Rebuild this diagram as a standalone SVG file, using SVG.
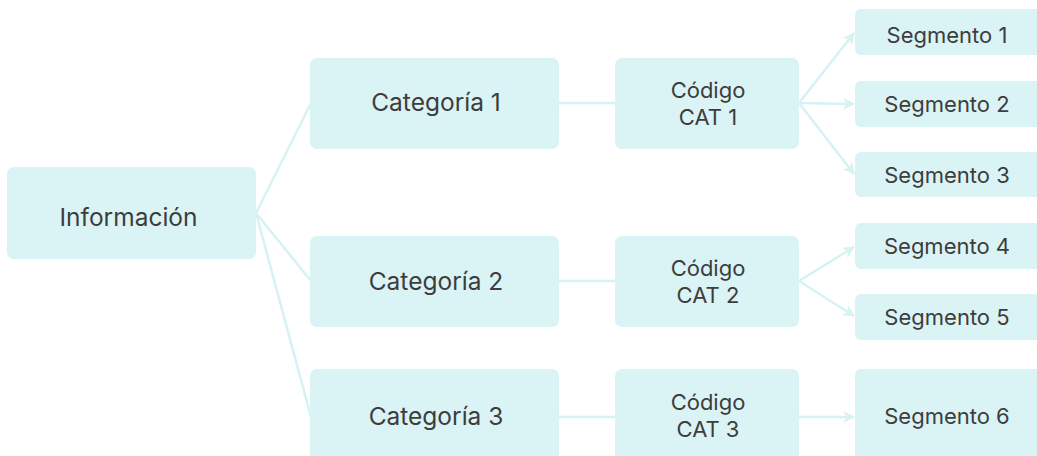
<svg xmlns="http://www.w3.org/2000/svg" width="1037" height="456" viewBox="0 0 1037 456">
<style>
.box{fill:#daf3f5}
.t{font-family:Inter,"Noto Sans","Liberation Sans",sans-serif;fill:#3d3d3d;text-anchor:middle;font-weight:400}
.l{font-size:24.5px}
.m{font-size:22px}
.s{font-size:22px}
.c{stroke:#d6f2f4;stroke-width:2.5;fill:none}
</style>
<defs>
<marker id="ah" viewBox="0 0 12 12" refX="11" refY="6" markerWidth="12" markerHeight="12" markerUnits="userSpaceOnUse" orient="auto">
<path d="M0,0 L12,6 L0,12 L3.5,6 z" fill="#d6f2f4"/>
</marker>
</defs>
<g id="connectors">
<line class="c" x1="256" y1="213" x2="311" y2="103"/>
<line class="c" x1="256" y1="213" x2="311" y2="281"/>
<line class="c" x1="256" y1="213" x2="311" y2="417"/>
<line class="c" x1="558" y1="103" x2="617" y2="103"/>
<line class="c" x1="558" y1="281" x2="617" y2="281"/>
<line class="c" x1="558" y1="417" x2="617" y2="417"/>
<line class="c" x1="799" y1="103" x2="854" y2="33" marker-end="url(#ah)"/>
<line class="c" x1="799" y1="103" x2="854" y2="104" marker-end="url(#ah)"/>
<line class="c" x1="799" y1="103" x2="854" y2="174" marker-end="url(#ah)"/>
<line class="c" x1="799" y1="281" x2="854" y2="247" marker-end="url(#ah)"/>
<line class="c" x1="799" y1="281" x2="854" y2="316" marker-end="url(#ah)"/>
<line class="c" x1="799" y1="417" x2="854" y2="417" marker-end="url(#ah)"/>
</g>
<g id="informacion"><rect class="box" x="7" y="167" width="249" height="92" rx="7"/><text class="t l" x="128.5" y="226">Información</text></g>
<g id="categoria1"><rect class="box" x="310" y="58" width="249" height="91" rx="7"/><text class="t l" x="436" y="111">Categoría 1</text></g>
<g id="categoria2"><rect class="box" x="310" y="236" width="249" height="91" rx="7"/><text class="t l" x="436" y="290">Categoría 2</text></g>
<g id="categoria3"><rect class="box" x="310" y="369" width="249" height="96" rx="7"/><text class="t l" x="436" y="425">Categoría 3</text></g>
<g id="codigo1"><rect class="box" x="615" y="58" width="184" height="91" rx="7"/><text class="t m" x="708" y="98">Código</text><text class="t m" x="708" y="125">CAT 1</text></g>
<g id="codigo2"><rect class="box" x="615" y="236" width="184" height="91" rx="7"/><text class="t m" x="708" y="276">Código</text><text class="t m" x="708" y="303">CAT 2</text></g>
<g id="codigo3"><rect class="box" x="615" y="369" width="184" height="96" rx="7"/><text class="t m" x="708" y="410">Código</text><text class="t m" x="708" y="437">CAT 3</text></g>
<g id="segmento1"><rect class="box" x="855" y="9" width="188" height="46" rx="6"/><text class="t s" x="947" y="43">Segmento 1</text></g>
<g id="segmento2"><rect class="box" x="855" y="81" width="188" height="46" rx="6"/><text class="t s" x="947" y="112">Segmento 2</text></g>
<g id="segmento3"><rect class="box" x="855" y="152" width="188" height="45" rx="6"/><text class="t s" x="947" y="183">Segmento 3</text></g>
<g id="segmento4"><rect class="box" x="855" y="223" width="188" height="46" rx="6"/><text class="t s" x="947" y="254">Segmento 4</text></g>
<g id="segmento5"><rect class="box" x="855" y="294" width="188" height="46" rx="6"/><text class="t s" x="947" y="325">Segmento 5</text></g>
<g id="segmento6"><rect class="box" x="855" y="369" width="188" height="96" rx="6"/><text class="t s" x="947" y="424">Segmento 6</text></g>
</svg>
